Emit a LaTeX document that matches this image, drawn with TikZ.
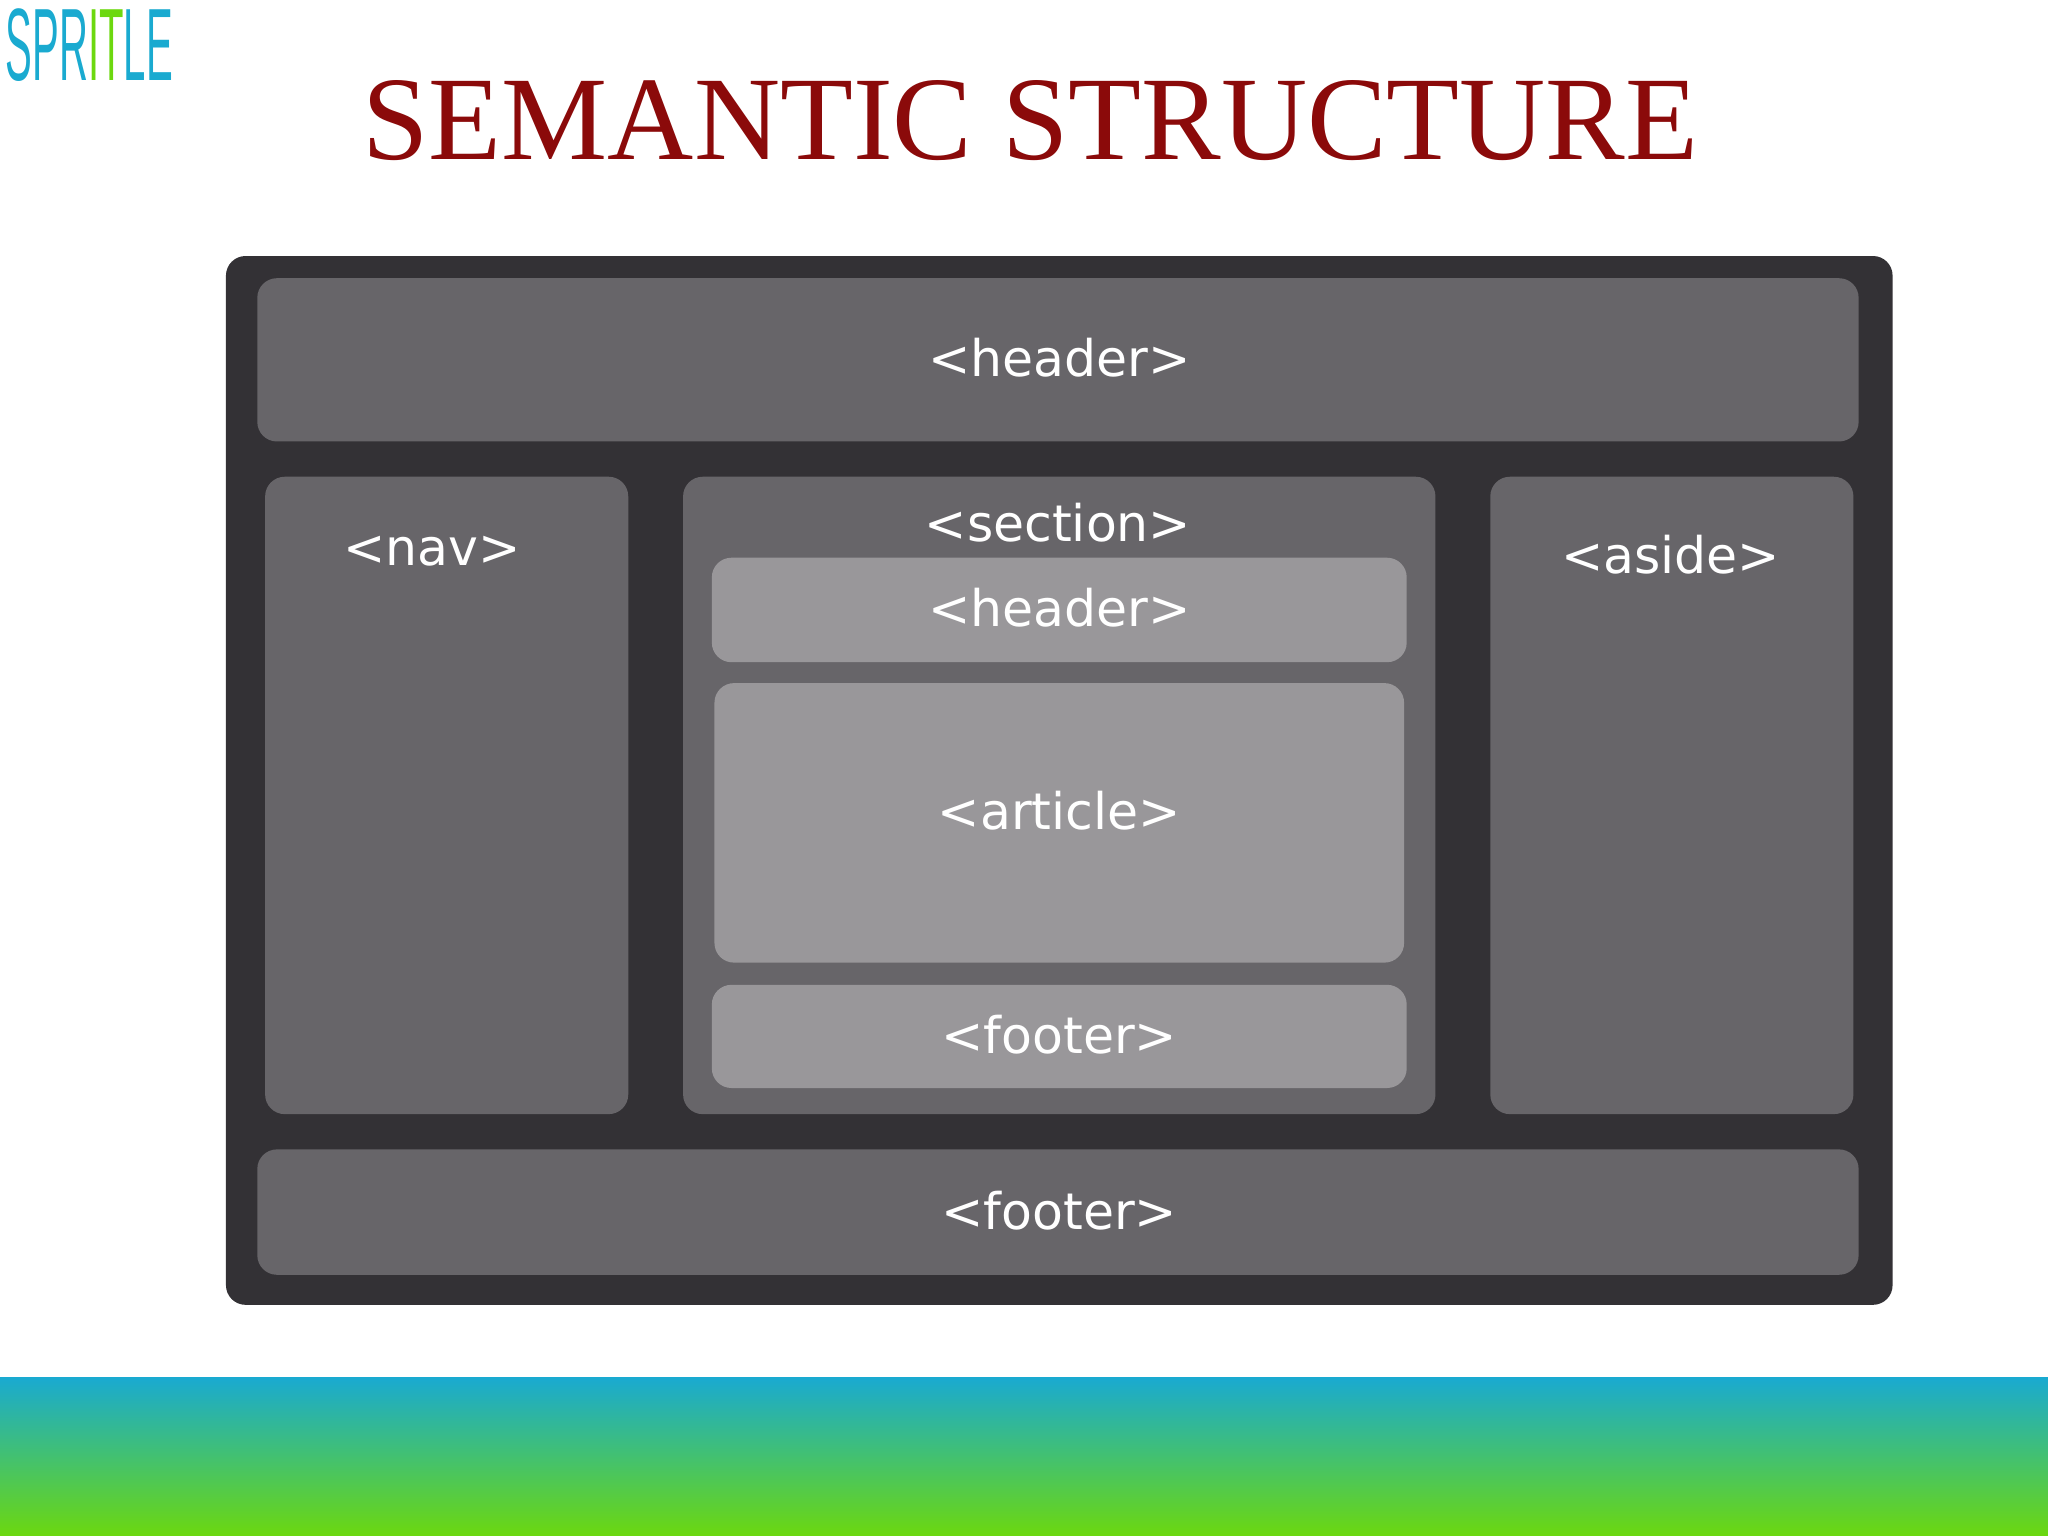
\documentclass[tikz,border=0pt]{standalone}
\usepackage{fontspec}
\setmainfont{Liberation Serif}
\newfontfamily\lbl{DejaVu Sans}
\newfontfamily\logof{Liberation Sans}
\definecolor{outerc}{HTML}{333135}
\definecolor{midc}{HTML}{676569}
\definecolor{lightc}{HTML}{99979A}
\definecolor{titlec}{HTML}{8B0A0A}
\definecolor{cyanc}{HTML}{1AAAD0}
\definecolor{greenc}{HTML}{6CD80F}
\begin{document}
\begin{tikzpicture}[x=0.02cm,y=-0.02cm,
  mid/.style={fill=midc,rounded corners=0.3cm},
  light/.style={fill=lightc,rounded corners=0.3cm},
  lab/.style={text=white,font=\lbl\fontsize{22}{26}\selectfont}]
\useasboundingbox (0,0) rectangle (1568,1176);
\fill[white] (0,0) rectangle (1568,1176);
\shade[top color=cyanc,bottom color=greenc] (0,1055) rectangle (1568,1176);
\node[anchor=north west,inner sep=0] (logo) at (4,6) {\resizebox{2.56cm}{1.1cm}{\logof\textcolor{cyanc}{SPR}\textcolor{greenc}{IT}\textcolor{cyanc}{LE}}};
\node[text=titlec,font=\fontsize{52}{56}\selectfont] (title) at (789,92) {SEMANTIC STRUCTURE};
\fill[outerc,rounded corners=0.3cm] (173,196) rectangle (1449,999);
\fill[mid] (197,213) rectangle (1423,338);
\fill[mid] (203,365) rectangle (481,853);
\fill[mid] (523,365) rectangle (1099,853);
\fill[mid] (1141,365) rectangle (1419,853);
\fill[mid] (197,880) rectangle (1423,976);
\fill[light] (545,427) rectangle (1077,507);
\fill[light] (547,523) rectangle (1075,737);
\fill[light] (545,754) rectangle (1077,833);
\node[lab] (h) at (811,274) {<header>};
\node[lab] (n) at (331,422) {<nav>};
\node[lab] (s) at (810,400) {<section>};
\node[lab] (sh) at (811,465) {<header>};
\node[lab] (ar) at (811,621) {<article>};
\node[lab] (sf) at (811,792) {<footer>};
\node[lab] (as) at (1279,425) {<aside>};
\node[lab] (f) at (811,927) {<footer>};
\end{tikzpicture}
\end{document}
